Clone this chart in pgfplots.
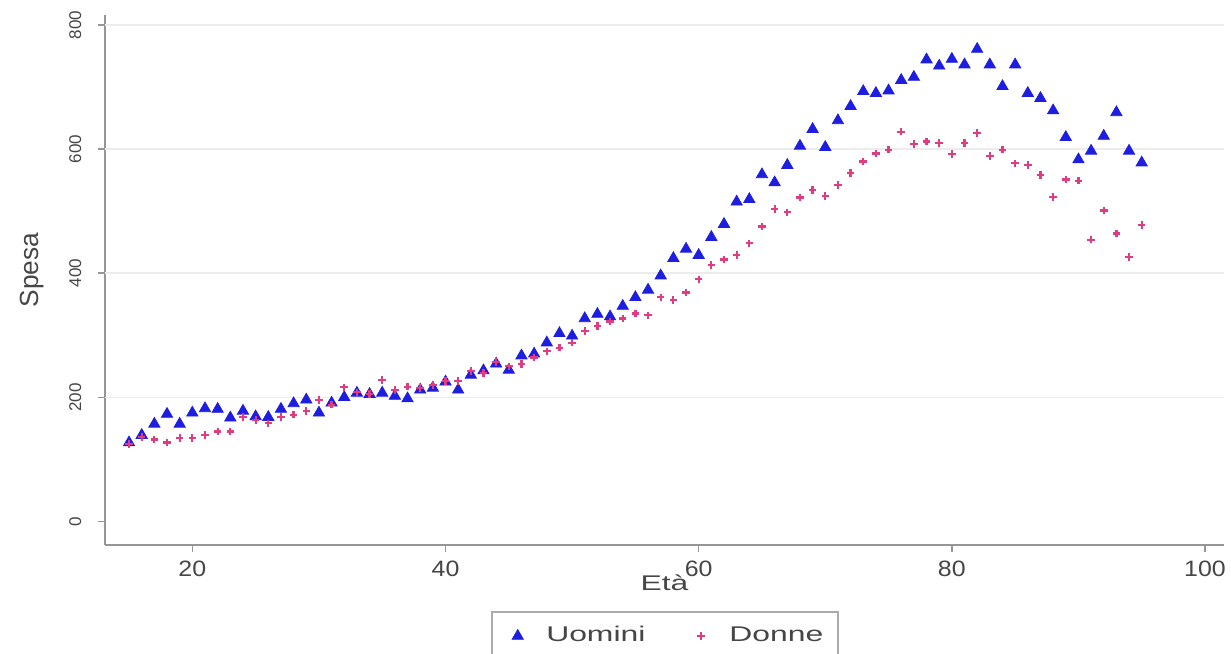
\documentclass[border=0pt]{standalone}
\usepackage{fontspec}
\setmainfont{Liberation Sans}
\newfontfamily\widesans[FakeStretch=1.5]{Liberation Sans}
\newfontfamily\ticksans[FakeStretch=1.12]{Liberation Sans}
\usepackage{pgfplots}
\pgfplotsset{compat=1.18}
\usepackage{pgfplotstable}

\definecolor{uomini}{RGB}{30,30,225}
\definecolor{donne}{RGB}{225,60,130}
\definecolor{axisgray}{RGB}{150,150,150}
\definecolor{labelgray}{RGB}{70,70,70}
\definecolor{gridgray}{RGB}{236,236,236}

% Spesa media per eta', uomini
\pgfplotstableread{
eta spesa
15 127
16 139
17 157
18 173
19 157
20 175
21 182
22 181
23 167
24 178
25 169
26 168
27 181
28 190
29 196
30 175
31 191
32 200
33 207
34 205
35 207
36 202
37 198
38 212
39 215
40 225
41 212
42 236
43 243
44 254
45 244
46 267
47 270
48 288
49 303
50 299
51 327
52 334
53 330
54 347
55 361
56 373
57 396
58 424
59 439
60 429
61 458
62 479
63 515
64 519
65 559
66 546
67 574
68 605
69 632
70 603
71 646
72 669
73 693
74 690
75 694
76 711
77 716
78 744
79 734
80 745
81 736
82 761
83 736
84 701
85 736
86 690
87 682
88 662
89 619
90 583
91 597
92 621
93 659
94 597
95 578
}\uomini

% Spesa media per eta', donne
\pgfplotstableread{
eta spesa
15 125
16 136
17 132
18 127
19 134
20 134
21 139
22 145
23 145
24 168
25 163
26 158
27 168
28 172
29 178
30 196
31 188
32 216
33 208
34 205
35 228
36 212
37 217
38 215
39 220
40 226
41 226
42 242
43 239
44 257
45 250
46 254
47 264
48 274
49 280
50 288
51 307
52 315
53 322
54 327
55 335
56 332
57 361
58 357
59 369
60 390
61 413
62 422
63 429
64 448
65 475
66 503
67 498
68 522
69 534
70 524
71 542
72 561
73 580
74 593
75 599
76 628
77 608
78 612
79 610
80 592
81 610
82 626
83 589
84 599
85 577
86 574
87 558
88 523
89 551
90 549
91 454
92 501
93 464
94 426
95 478
}\donne

\begin{document}
\begin{tikzpicture}
\useasboundingbox (0,0) rectangle (492.4pt,261.6pt);
\begin{axis}[
  at={(42pt,43.6pt)}, anchor=south west,
  scale only axis, width=447.6pt, height=212pt,
  xmin=13.1, xmax=101.5, ymin=-38, ymax=816,
  axis lines=left,
  axis line style={-, draw=axisgray, line width=0.8pt},
  xtick={20,40,60,80,100},
  ytick={0,200,400,600,800},
  tick align=outside,
  major tick length=2.8pt,
  tick style={draw=axisgray, line width=0.6pt},
  extra y ticks={200,400,600,800},
  extra y tick labels={},
  extra y tick style={grid=major, major tick length=0pt},
  major grid style={draw=gridgray, line width=0.6pt},
  /pgf/number format/assume math mode=true,
  xticklabel style={font=\ticksans\fontsize{8.9}{10}\selectfont, text=labelgray},
  yticklabel style={font=\fontsize{6.8}{8}\selectfont, text=labelgray,
    rotate=90, anchor=south, yshift=3.2pt},
  xlabel={Età},
  ylabel={Spesa},
  xlabel style={font=\widesans\fontsize{8.5}{10}\selectfont, text=labelgray,
    at={(axis description cs:0.5,-0.0717)}, anchor=center},
  ylabel style={font=\fontsize{10.5}{12}\selectfont, text=labelgray,
    at={(axis description cs:-0.0652,0.519)}, anchor=center},
  legend columns=2,
  legend style={at={(axis description cs:0.5005,-0.1245)}, anchor=north,
    draw=axisgray!80, line width=0.8pt,
    font=\widesans\fontsize{8.5}{10}\selectfont, text=labelgray,
    inner xsep=4pt, inner ysep=3.8pt,
    /tikz/every even column/.append style={column sep=13.8pt},
    cells={anchor=west}},
  legend image code/.code={%
    \path (0pt,0pt) (15pt,0pt);
    \draw[#1] plot coordinates {(6pt,0pt)};},
]
\addplot[only marks, mark=triangle*, mark size=2.6pt, color=uomini,
  mark options={line width=0.3pt, fill=uomini, draw=uomini}]
  table[x=eta, y=spesa] {\uomini};
\addlegendentry{Uomini}
\addplot[only marks, mark=+, mark size=1.5pt, color=donne,
  mark options={line width=0.9pt}]
  table[x=eta, y=spesa] {\donne};
\addlegendentry{Donne}
\end{axis}
\end{tikzpicture}
\end{document}
